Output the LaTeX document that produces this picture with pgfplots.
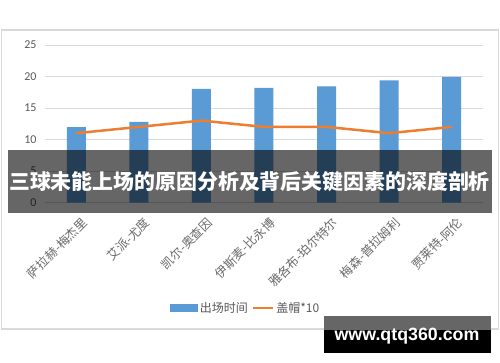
\documentclass[border=0pt]{standalone}
\usepackage{pgfplots}
\pgfplotsset{compat=1.18}
\usepackage{fontspec}
\setmainfont{Carlito}
\newfontfamily\cjk{Noto Sans CJK SC}
\newfontfamily\wm{Liberation Sans}
\definecolor{barblue}{HTML}{5B9BD5}
\definecolor{lineor}{HTML}{ED7D31}
\definecolor{txtgray}{HTML}{595959}
\definecolor{lblgray}{HTML}{6A6A6A}
\definecolor{gridgray}{HTML}{D9D9D9}
\definecolor{wmgray}{HTML}{666666}
\begin{document}
\begin{tikzpicture}[x=1pt,y=1pt]
\useasboundingbox (0,0) rectangle (500,362);
\fill[white] (0,0) rectangle (500,362);
\draw[gridgray, line width=1.2pt] (1.5,33) rectangle (498.5,332);
\begin{axis}[
  at={(45pt,159.5pt)}, anchor=south west, scale only axis,
  width=438pt, height=157.5pt,
  xmin=-0.5, xmax=6.5, ymin=0, ymax=25,
  ytick={0,5,10,15,20,25},
  xtick={0,1,2,3,4,5,6},
  xticklabels={萨拉赫-梅杰里,艾派-尤度,凯尔-奥查因,伊斯麦-比永博,雅各布-珀尔特尔,梅森-普拉姆利,贾莱特-阿伦},
  axis line style={draw=none},
  major tick length=0pt,
  ymajorgrids, grid style={gridgray, line width=0.9pt},
  /pgf/number format/assume math mode=true,
  yticklabel style={font=\fontsize{12}{14}\selectfont, text=txtgray, xshift=-5pt},
  xticklabel style={font=\cjk\fontsize{12.3}{14}\selectfont, text=lblgray, rotate=45, anchor=east, xshift=-3.2pt, yshift=-18.8pt},
  legend style={at={(0.458,-0.67)}, anchor=center, draw=none, fill=none,
    font=\cjk\fontsize{12}{14}\selectfont, text=txtgray,
    /tikz/every even column/.append style={column sep=2pt}},
  legend columns=2,
]
\addplot[ybar, bar width=19pt, fill=barblue, draw=none,
  legend image code/.code={\fill[barblue] (0pt,-4pt) rectangle (28pt,4pt);}]
  coordinates {(0,11.95) (1,12.8) (2,18.05) (3,18.2) (4,18.45) (5,19.4) (6,19.95)};
\addlegendentry{出场时间}
\addplot[lineor, line width=2.5pt, mark=none,
  legend image code/.code={\draw[lineor, line width=2.5pt] (0pt,0pt) -- (20pt,0pt);}]
  coordinates {(0,11) (1,12) (2,13) (3,12) (4,12) (5,11) (6,12)};
\addlegendentry{盖帽*10}
\end{axis}
\fill[black, opacity=0.6] (8,149.3) rectangle (491.7,212);
\node[text=white, font=\cjk\bfseries\fontsize{20.9}{23}\selectfont, inner sep=0pt] at (249.5,180) {三球未能上场的原因分析及背后关键因素的深度剖析};
\fill[wmgray] (324,32) rectangle (491,46);
\fill[black] (324,9.3) rectangle (491,32);
\node[text=white, font=\wm\bfseries\fontsize{17.8}{20}\selectfont, inner sep=0pt] at (407,26) {www.qtq360.com};
\end{tikzpicture}
\end{document}
